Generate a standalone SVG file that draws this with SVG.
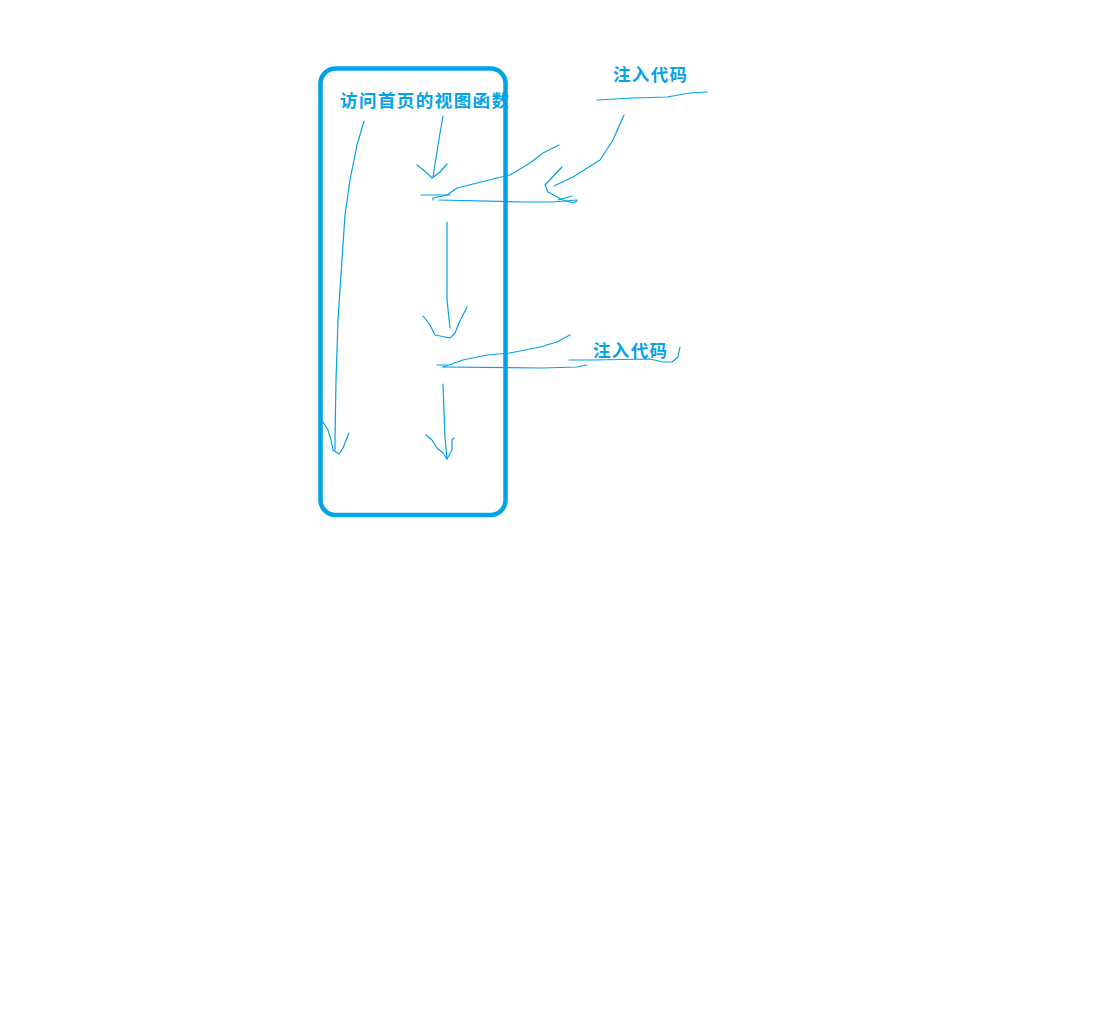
<svg xmlns="http://www.w3.org/2000/svg" width="1116" height="1022" viewBox="0 0 1116 1022">
<style>
.s{fill:none;stroke:#00a2e8;stroke-width:1.2;stroke-linecap:round;stroke-linejoin:round}
.t{font-family:"Noto Sans CJK SC","Noto Sans",sans-serif;font-weight:bold;font-size:17.5px;fill:#00a2e8}
</style>
<rect width="1116" height="1022" fill="#fff"/>
<g id="box">
<rect x="320.5" y="68.5" width="185" height="446.5" rx="15" fill="none" stroke="#00a2e8" stroke-width="4.5"/>
<text class="t" x="340" y="107" textLength="169" lengthAdjust="spacing">访问首页的视图函数</text>
</g>
<g id="label1"><text class="t" x="613" y="81" textLength="74" lengthAdjust="spacing">注入代码</text></g>
<g id="label2"><text class="t" x="593" y="357" textLength="74" lengthAdjust="spacing">注入代码</text></g>
<g id="connectors">
<path class="s" d="M364,121 L357,145 L350,180 L345,215 L342,260 L338,320 L336,380 L335,440 L335,450"/>
<path class="s" d="M323,422 L328,430 L331,440 L333,450 L339,454 L343,448 L349,433"/>
<path class="s" d="M443,116 L438,145 L433,177"/>
<path class="s" d="M417,165 L427,173 L432,178 L440,172 L447,164"/>
<path class="s" d="M421,195 L450,195"/>
<path class="s" d="M433,200 L433,198 L447,195 L457,188 L477,183 L497,178 L510,175 L530,163 L543,153 L559,145"/>
<path class="s" d="M439,200 L523,202 L553,202 L577,200"/>
<path class="s" d="M624,115 L613,140 L600,160 L573,177 L554,186"/>
<path class="s" d="M562,167 L545,185 L548,192 L563,200 L573,203 L577,201"/>
<path class="s" d="M558,200 L572,196"/>
<path class="s" d="M597,100 L633,98 L667,97 L690,93 L707,92"/>
<path class="s" d="M447,222 L447,300 L450,328"/>
<path class="s" d="M423,316 L430,325 L435,335 L450,338 L455,333 L459,323 L467,307"/>
<path class="s" d="M437,365 L447,365"/>
<path class="s" d="M443,367 L543,368 L577,367 L587,365"/>
<path class="s" d="M443,367 L463,360 L487,355 L510,353 L540,347 L557,342 L570,335"/>
<path class="s" d="M569,360 L593,360 L650,359 L663,362 L672,362 L678,357 L680,347"/>
<path class="s" d="M443,384 L445,438 L447,459"/>
<path class="s" d="M426,435 L432,440 L437,448 L443,453 L447,459 L452,450 L452,440 L454,438"/>
</g>
</svg>
